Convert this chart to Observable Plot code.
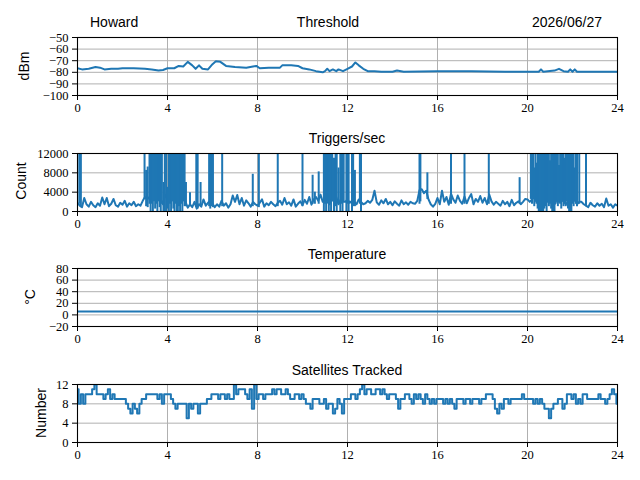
<!DOCTYPE html>
<html><head><meta charset="utf-8">
<script src="https://cdn.jsdelivr.net/npm/d3@7"></script>
<script src="https://cdn.jsdelivr.net/npm/@observablehq/plot@0.6"></script>
<style>
body{margin:0;background:#fff;}
#root{position:relative;width:640px;height:480px;overflow:hidden;background:#fff;}
.panel{position:absolute;left:0;}
.lbl{position:absolute;font-family:"Liberation Sans","DejaVu Sans",sans-serif;font-size:14px;color:#000;white-space:nowrap;line-height:1;}
</style></head>
<body><div id="root"></div>
<script>
// ---- Data ----
const xTicks = [0, 4, 8, 12, 16, 20, 24];

const thrHours = [0, 0.2, 0.5, 0.8, 1.0, 1.2, 1.5, 1.8, 2.0, 2.5, 3.0, 3.3, 3.6, 3.8, 4.0, 4.3, 4.5, 4.7, 4.9, 5.1, 5.25, 5.4, 5.55, 5.8, 6.0, 6.15, 6.35, 6.6, 7.0, 7.5, 7.8, 7.95, 8.1, 8.5, 9.0, 9.1, 9.5, 9.8, 10.0, 10.3, 10.6, 10.9, 11.0, 11.1, 11.2, 11.35, 11.5, 11.6, 11.8, 12.0, 12.2, 12.35, 12.5, 12.7, 12.9, 13.2, 13.5, 14.0, 14.2, 14.5, 16.0, 17.5, 19.0, 20.0, 20.5, 20.6, 20.7, 21.2, 21.4, 21.6, 21.8, 21.9, 22.0, 22.1, 22.2, 23.0, 24.0];
const thrValues = [-76.5, -77.5, -77, -75.5, -76, -77.5, -77, -77, -76.5, -76.5, -77, -77.5, -78.5, -78, -76.5, -76.5, -74.5, -75, -71, -74, -77, -74, -77, -77.5, -73, -70.5, -71, -74.5, -75.5, -76, -75, -74.5, -76.5, -76, -76, -74, -74, -74.5, -76.5, -77.5, -79, -80, -79, -77, -79, -77.5, -79, -77.5, -79, -77, -75, -71.5, -74, -77, -79, -79, -79.5, -79.5, -78.5, -79.5, -79, -79, -79.5, -79.5, -79.5, -77.5, -79.5, -78.5, -77, -79, -79.5, -77.5, -79.5, -77.5, -79.5, -79.5, -79.5];
const thrTicks = [-100, -90, -80, -70, -60, -50];

// trigger baseline sampled every 0.1 h
const trigBase = [
1800,1200,900,2800,1500,1000,2000,1300,900,1700,
1200,2900,1500,2800,1100,1600,2600,1300,1000,1800,
1400,2200,1000,1700,1300,2000,1100,1500,1200,2200,
3000,2500,3000,2800,2500,3000,2600,2500,1500,3500,
2500,2000,3000,2000,2500,1500,2000,2600,2000,800,
1500,900,2000,600,1500,1000,2500,1200,1800,2200,
1600,900,1500,1000,2200,1200,1700,800,1500,3300,
2000,3400,1500,2800,1200,2300,1700,1000,2000,1500,
1200,1800,2500,1000,1700,1300,2000,1500,1100,1800,
2200,1400,2800,1500,1900,1200,2500,1000,1600,2100,
1300,2400,1600,3000,1400,2500,3000,2200,3500,2000,
2500,2000,1500,2800,2000,3000,1500,2500,2000,2000,
2500,1800,2200,2000,1500,2500,2000,1500,1700,2200,
1800,2400,4300,1900,1400,2300,1700,2600,1500,2000,
1300,2100,1600,1200,2300,1500,1900,1400,2000,1700,
1600,2200,4400,4600,3800,4300,2500,1500,1000,1600,
2800,1500,4300,2000,3000,1400,3700,2500,1800,3300,
2200,1600,3100,1700,2800,3600,1500,2600,2000,3200,
1800,2800,1500,3500,2100,1400,2000,1600,1200,2200,
1500,2000,1100,2400,1300,1800,2100,1500,2000,2600,
2500,2000,2500,3000,2000,2500,1500,2000,2500,2000,
2000,2500,1500,2500,2000,2000,2500,1500,2000,2500,
2000,2500,1500,2000,2000,1500,1200,900,1800,1300,
1000,1700,1200,1600,900,2700,1200,1500,800,1500,
1200];
const spikeHours = [0.08,0.15,2.98,3.05,3.12,3.2,3.25,3.3,3.35,3.4,3.45,3.5,3.55,3.6,3.65,3.7,3.75,3.82,3.88,3.94,4.0,4.06,4.11,4.16,4.21,4.26,4.31,4.36,4.41,4.46,4.51,4.56,4.61,4.66,4.71,4.76,4.82,5.0,5.28,5.34,5.47,5.85,5.9,5.95,6.02,6.43,7.79,8.06,8.9,10.0,10.45,10.55,10.72,10.95,11.0,11.05,11.12,11.17,11.22,11.27,11.32,11.4,11.47,11.52,11.6,11.68,11.73,11.78,11.83,11.95,12.0,12.05,12.2,12.25,12.33,12.55,12.6,15.2,15.24,15.55,16.6,17.2,18.28,19.65,
20.15,20.2,20.25,20.3,20.35,20.4,20.45,20.5,20.55,20.6,20.65,20.7,20.75,20.8,20.85,20.9,20.95,21.0,21.05,21.1,21.15,21.2,21.25,21.3,21.35,21.4,21.45,21.5,21.55,21.6,21.65,21.7,21.75,21.8,21.85,21.9,21.95,22.0,22.05,22.1,22.15,22.2,22.3,22.6];
const spikeLows = [1500,800,2500,1000,800,1500,0,1500,0,2000,500,1500,0,2000,800,0,1500,0,0,0,500,0,1500,0,2000,500,0,1500,0,0,1000,0,1500,0,2000,1000,1000,1000,1000,500,1000,1000,500,1000,800,1000,1000,800,1000,1000,1500,1500,1500,0,1500,0,2000,0,1500,0,2000,0,1000,0,1500,0,1500,0,2000,0,1500,0,0,1000,1000,1500,0,1500,2000,2500,1500,1500,1500,1500,
2500,1500,2500,1000,2000,1500,500,0,0,0,0,0,500,1000,0,2000,1000,1500,500,0,0,0,1500,2000,1000,2000,1500,500,2000,1000,1500,1000,2000,500,0,0,0,1500,1000,2000,1500,1000,1500,1000];
const spikeHighs = [13000,13000,12500,8500,9200,13000,13000,13000,13000,13000,13000,13000,13000,13000,13000,13000,13000,6000,13000,13000,5000,13000,13000,13000,13000,13000,13000,13000,13000,13000,13000,13000,13000,13000,13000,13000,6000,3900,13000,13000,6000,13000,13000,13000,13000,13000,7700,13000,13000,13000,7500,4000,8200,13000,13000,13000,13000,13000,13000,13000,13000,11000,13000,13000,9000,13000,13000,13000,13000,13000,13000,13000,13000,13000,8500,13000,13000,13000,13000,8000,13000,13000,13000,7000,
12000,13000,13000,9000,13000,10000,13000,13000,13000,13000,13000,13000,13000,13000,13000,13000,13000,10500,13000,13000,13000,13000,13000,13000,13000,9500,13000,13000,13000,13000,11000,13000,13000,13000,13000,13000,13000,13000,13000,9000,13000,13000,13000,13000];
const trigTicks = [0, 4000, 8000, 12000];

const tempHours = [0, 6, 12, 18, 24];
const tempValues = [5.7, 5.7, 5.7, 5.7, 5.7];
const tempTicks = [-20, 0, 20, 40, 60, 80];

// satellites sampled every 0.1 h
const satValues = [
11,8,10,8,10,10,10,11,12,10,
10,10,9,10,11,9,10,9,9,9,
9,9,8,7,6,8,7,6,8,9,
9,10,10,10,10,10,9,10,8,10,
10,10,9,8,7,8,8,8,8,5,
8,7,8,8,6,8,8,8,9,9,
10,10,10,9,10,10,9,10,9,9,
12,10,11,11,11,10,9,11,7,12,
9,10,10,9,10,10,10,11,10,11,
11,10,10,11,10,9,9,10,10,9,
10,9,8,8,7,9,9,9,8,8,
9,7,8,8,6,7,9,8,6,9,
9,9,10,10,9,10,11,12,10,11,
11,10,10,11,11,10,11,10,9,10,
10,10,9,7,9,9,10,10,9,8,
10,9,10,9,8,10,9,8,9,8,
9,9,9,8,9,8,9,8,7,9,
9,9,8,9,9,8,9,9,9,8,
9,9,10,10,10,9,7,6,8,7,
9,9,8,9,9,9,9,9,10,9,
9,9,9,8,9,8,9,8,7,7,
5,7,8,8,9,9,7,8,10,10,
9,10,8,9,8,10,10,9,9,9,
9,9,10,9,9,8,9,10,11,10,
8];
const satTicks = [0, 4, 8, 12];

// ---- Drawing ----
const BLUE = "#1f77b4";
const root = document.getElementById("root");
const fmt = d => d < 0 ? "\u2212" + (-d) : String(d);

function panel(top, yDomain, yTicks, marks) {
  const svg = Plot.plot({
    width: 640, height: 116,
    marginLeft: 77, marginRight: 23, marginTop: 30, marginBottom: 28,
    style: {fontFamily: "'Liberation Serif','DejaVu Serif',serif", fontSize: "12.5px", background: "transparent", color: "#000"},
    x: {domain: [0, 24], ticks: xTicks, tickFormat: fmt, tickSize: 5, tickPadding: 3, label: null},
    y: {domain: yDomain, ticks: yTicks, tickFormat: fmt, tickSize: 5, tickPadding: 4, label: null},
    marks: [
      Plot.ruleX(xTicks, {stroke: "#b0b0b0", strokeWidth: 1}),
      Plot.ruleY(yTicks, {stroke: "#b0b0b0", strokeWidth: 1}),
      ...marks,
      Plot.frame({stroke: "#000", strokeWidth: 1.1})
    ]
  });
  const div = document.createElement("div");
  div.className = "panel";
  div.style.top = top + "px";
  div.appendChild(svg);
  root.appendChild(div);
}

function label(text, x, y, anchor, rotate) {
  const d = document.createElement("div");
  d.className = "lbl";
  d.textContent = text;
  d.style.left = x + "px";
  d.style.top = y + "px";
  const tx = anchor === "middle" ? "-50%" : anchor === "end" ? "-100%" : "0";
  d.style.transform = `translate(${tx}, -50%)`;
  if (rotate) { d.style.transform = "translate(-50%,-50%) rotate(-90deg)"; d.style.transformOrigin = "50% 50%"; }
  root.appendChild(d);
}

const hours01 = d3.range(trigBase.length).map(i => i / 10);

panel(7, [-100, -50], thrTicks, [
  Plot.line(thrHours.map((h, i) => ({h, v: thrValues[i]})), {x: "h", y: "v", stroke: BLUE, strokeWidth: 2, clip: true})
]);
panel(123, [0, 12000], trigTicks, [
  Plot.line(hours01.map((h, i) => ({h, v: trigBase[i]})), {x: "h", y: "v", stroke: BLUE, strokeWidth: 2, clip: true}),
  Plot.ruleX(spikeHours.map((h, i) => ({h, lo: spikeLows[i], hi: spikeHighs[i]})), {x: "h", y1: "lo", y2: "hi", stroke: BLUE, strokeWidth: 2, clip: true})
]);
panel(238, [-20, 80], tempTicks, [
  Plot.line(tempHours.map((h, i) => ({h, v: tempValues[i]})), {x: "h", y: "v", stroke: BLUE, strokeWidth: 2, clip: true})
]);
panel(354, [0, 12], satTicks, [
  Plot.line(satValues.map((v, i) => ({h: i / 10, v})), {x: "h", y: "v", curve: "step", stroke: BLUE, strokeWidth: 2, clip: true})
]);

// titles
label("Howard", 90, 22, "start");
label("Threshold", 328, 22, "middle");
label("2026/06/27", 602, 22, "end");
label("Triggers/sec", 347, 138, "middle");
label("Temperature", 347, 254, "middle");
label("Satellites Tracked", 347, 370, "middle");
// y labels
label("dBm", 24, 66, "middle", true);
label("Count", 21, 181, "middle", true);
label("\u00B0C", 30, 297, "middle", true);
label("Number", 41, 413, "middle", true);
</script></body></html>
